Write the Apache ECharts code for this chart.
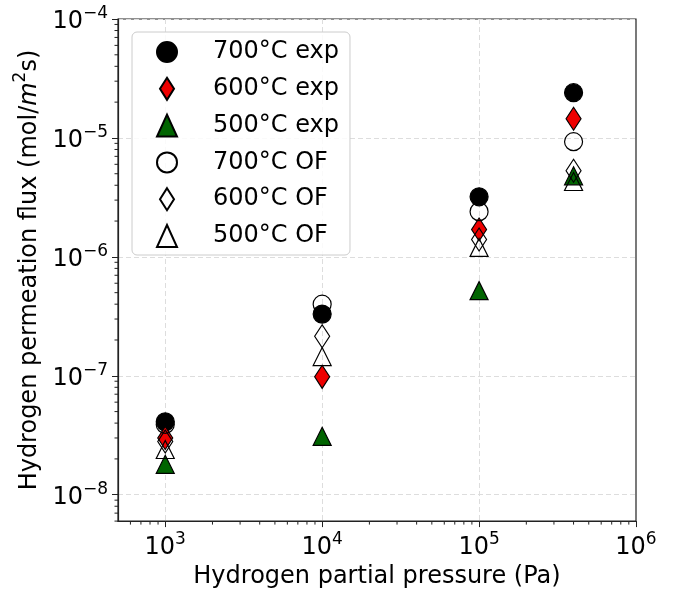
<!DOCTYPE html>
<html><head><meta charset="utf-8">
<script src="https://cdn.jsdelivr.net/npm/echarts@6/dist/echarts.min.js"></script>
<style>html,body{margin:0;padding:0;background:#fff}#c{width:675px;height:594px}</style>
</head><body><div id="c"></div>
<script>
// ---- data ----
const pressure = [1e3, 1e4, 1e5, 4e5];               // Pa
const exp700 = [4.1e-8, 3.3e-7, 3.2e-6, 2.4e-5];
const exp600 = [3.0e-8, 9.8e-8, 1.7e-6, 1.45e-5];
const exp500 = [1.8e-8, 3.1e-8, 5.2e-7, 4.8e-6];
const of700  = [3.9e-8, 4.0e-7, 2.4e-6, 9.3e-6];
const of600  = [2.8e-8, 2.15e-7, 1.4e-6, 5.3e-6];
const of500  = [2.4e-8, 1.45e-7, 1.2e-6, 4.3e-6];
const seriesNames = ['700°C exp','600°C exp','500°C exp','700°C OF','600°C OF','500°C OF'];
const xTickExponents = [3, 4, 5, 6];
const yTickExponents = [-8, -7, -6, -5, -4];
const xTitle = 'Hydrogen partial pressure (Pa)';

const FONT = 'DejaVu Sans';
const DIAMOND = 'path://M0,-11 L7,0 L0,11 L-7,0 Z';
const EDGE = '#000';

function pts(arr){ return pressure.map((p,i)=>[p, arr[i]]); }
function expLabel(v){
  const e = Math.round(Math.log10(v));
  return '{b|10}{s|' + String(e).replace('-', '\u2212') + '}';
}
const labelRich = {
  b: {fontFamily: FONT, fontSize: 24, color: '#000', verticalAlign: 'bottom', lineHeight: 30},
  s: {fontFamily: FONT, fontSize: 17, color: '#000', verticalAlign: 'bottom', lineHeight: 30, padding: [0,0,12,0]}
};

function mk(name, data, symbol, size, fill){
  return {
    name, type: 'scatter', data: pts(data), symbol, symbolSize: size,
    itemStyle: {color: fill, borderColor: EDGE, borderWidth: 1.2, opacity: 1},
    emphasis: {disabled: true}
  };
}

const chart = echarts.init(document.getElementById('c'), null, {renderer: 'canvas'});
const splitStyle = {show: true, showMinLine: false, showMaxLine: false,
  lineStyle: {color: '#dddddd', type: [5, 3], width: 1}};
const option = {
  animation: false,
  backgroundColor: '#fff',
  grid: {left: 118, right: 39, top: 19, bottom: 71, show: true, borderColor: '#222', borderWidth: 1.2, backgroundColor: 'transparent'},
  legend: {
    orient: 'vertical', left: 132, top: 32,
    padding: [6, 11, 5, 24],
    itemWidth: 20, itemHeight: 22, itemGap: 8.8,
    symbolKeepAspect: true,
    backgroundColor: 'rgba(255,255,255,0.85)',
    borderColor: '#cccccc', borderWidth: 1, borderRadius: 5,
    data: seriesNames,
    formatter: '{g|}{name}',
    textStyle: {fontFamily: FONT, fontSize: 24, color: '#000', lineHeight: 28,
      rich: {g: {width: 31, lineHeight: 28}}},
    selectedMode: false
  },
  xAxis: {
    type: 'log', logBase: 10, min: 500, max: 1e6,
    name: xTitle, nameLocation: 'middle', nameGap: 41,
    nameTextStyle: {fontFamily: FONT, fontSize: 24, color: '#000'},
    axisLine: {show: true, lineStyle: {color: '#222', width: 1.2}},
    axisTick: {show: true, length: 6, lineStyle: {color: '#222', width: 1}},
    axisLabel: {margin: 9, formatter: expLabel, rich: labelRich, showMinLabel: false},
    splitLine: splitStyle,
    minorTick: {show: false}
  },
  yAxis: {
    type: 'log', logBase: 10, min: 6e-9, max: 1e-4,
    name: '{n|Hydrogen permeation flux (mol/}{i|m}{sup|2}{n|s)}',
    nameLocation: 'middle', nameGap: 68, nameRotate: 90,
    nameTextStyle: {
      rich: {
        n: {fontFamily: FONT, fontSize: 24, color: '#000', verticalAlign: 'bottom', lineHeight: 30},
        i: {fontFamily: FONT, fontSize: 24, color: '#000', fontStyle: 'italic', verticalAlign: 'bottom', lineHeight: 30},
        sup: {fontFamily: FONT, fontSize: 17, color: '#000', verticalAlign: 'bottom', lineHeight: 30, padding: [0,0,12,0]}
      }
    },
    axisLine: {show: true, lineStyle: {color: '#222', width: 1.2}},
    axisTick: {show: true, length: 6, lineStyle: {color: '#222', width: 1}},
    axisLabel: {margin: 10, formatter: expLabel, rich: labelRich, showMinLabel: false},
    splitLine: splitStyle
  },
  series: [
    mk(seriesNames[0], exp700, 'circle', 18, '#000000'),
    mk(seriesNames[1], exp600, DIAMOND, [15, 23], '#ee0000'),
    mk(seriesNames[2], exp500, 'triangle', 18, '#006400'),
    mk(seriesNames[3], of700, 'circle', 18, 'rgba(255,255,255,0)'),
    mk(seriesNames[4], of600, DIAMOND, [15, 23], 'rgba(255,255,255,0)'),
    mk(seriesNames[5], of500, 'triangle', 18, 'rgba(255,255,255,0)')
  ]
};
chart.setOption(option);

// minor ticks at 2..9 x 10^n, positioned through the axes' own scales
const minorX = [], minorY = [];
for (let d = 2; d <= 5; d++) for (let m = 2; m <= 9; m++) { const v = m * Math.pow(10, d); if (v > 500 && v < 1e6) minorX.push(v); }
for (let d = -9; d <= -5; d++) for (let m = 2; m <= 9; m++) { const v = m * Math.pow(10, d); if (v > 6e-9 && v < 1e-4) minorY.push(v); }
const origin = chart.convertToPixel({gridIndex: 0}, [500, 6e-9]);
const g = [];
minorX.forEach(v => {
  const px = chart.convertToPixel({gridIndex: 0}, [v, 1e-6])[0];
  g.push({type: 'line', silent: true, shape: {x1: px, y1: origin[1], x2: px, y2: origin[1] + 3.5}, style: {stroke: '#222', lineWidth: 1}});
});
minorY.forEach(v => {
  const py = chart.convertToPixel({gridIndex: 0}, [1e4, v])[1];
  g.push({type: 'line', silent: true, shape: {x1: origin[0] - 3.5, y1: py, x2: origin[0], y2: py}, style: {stroke: '#222', lineWidth: 1}});
});
chart.setOption({graphic: g});
</script></body></html>
